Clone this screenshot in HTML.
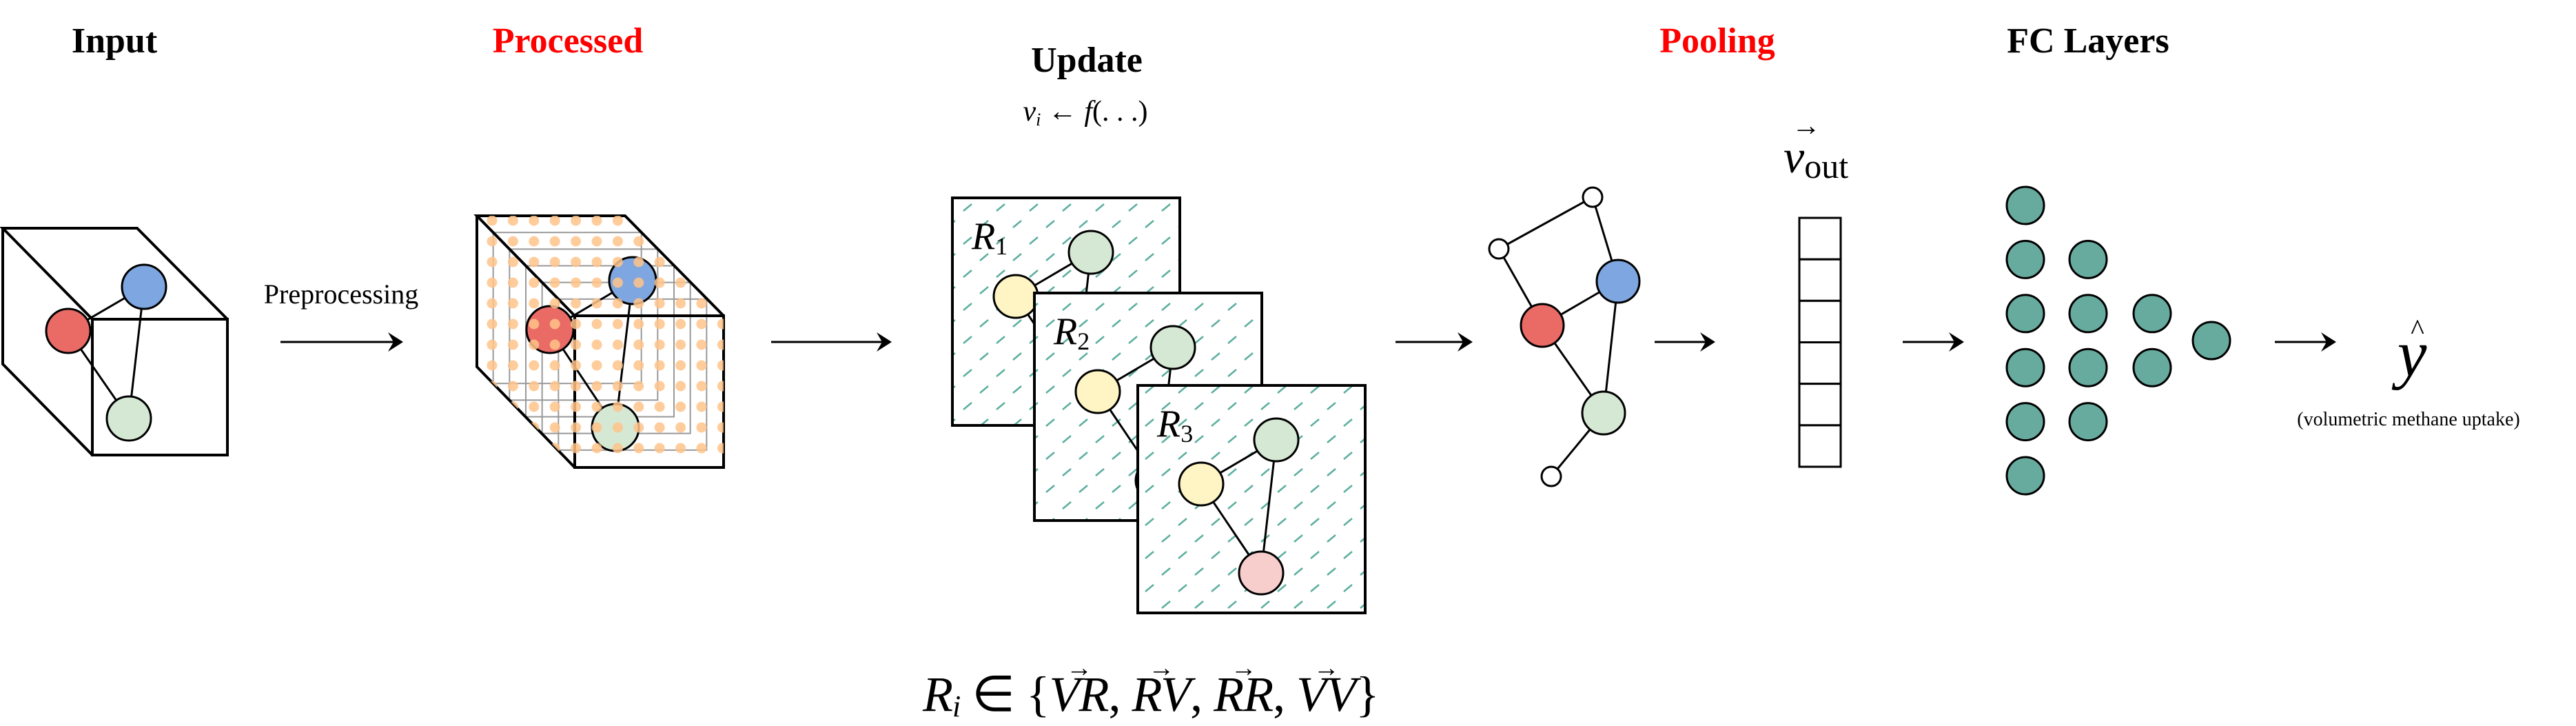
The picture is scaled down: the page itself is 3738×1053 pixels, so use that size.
<!DOCTYPE html>
<html><head><meta charset="utf-8">
<style>
html,body{margin:0;padding:0;background:#fff;}
body{position:relative;width:3738px;height:1053px;overflow:hidden;}
svg{display:block;}
.t{font-family:"Liberation Serif",serif;font-weight:bold;font-size:52px;text-anchor:middle;}
.m{font-family:"Liberation Serif",serif;font-style:italic;}
#rel{position:absolute;left:1339px;top:962px;width:641px;text-align:center;font-family:"Liberation Serif",serif;font-size:72px;line-height:90px;white-space:nowrap;letter-spacing:-1px;}
#rel i{font-style:italic;}
#rel .v{position:relative;display:inline-block;}
#rel .v::before{content:"→";position:absolute;left:50%;top:-38px;font-size:38px;font-style:normal;transform:translateX(-50%);}
#rel sub{font-size:44px;vertical-align:-8px;line-height:0;}
</style></head>
<body>
<svg id="fig" width="3738" height="1053" viewBox="0 0 3738 1053" xmlns="http://www.w3.org/2000/svg">
<defs>
<pattern id="hatch" width="48" height="48" patternUnits="userSpaceOnUse">
<line x1="6" y1="18" x2="18" y2="8" stroke="#5aae9e" stroke-width="2.5"/>
<line x1="30" y1="42" x2="42" y2="32" stroke="#5aae9e" stroke-width="2.5"/>
</pattern>
<clipPath id="cubeclip"><polygon points="692,313 907,313 1050,458 1050,678 834,678 692,532"/></clipPath>
</defs>

<text class="t" x="166" y="76">Input</text>
<text class="t" x="824" y="76" fill="#ff0000">Processed</text>
<text class="t" x="1577" y="104">Update</text>
<text class="m" x="1575" y="175" font-size="42" text-anchor="middle">v<tspan font-size="26" dy="7">i</tspan><tspan dy="-7" font-style="normal"> ← </tspan>f<tspan font-style="normal">(. . .)</tspan></text>
<text class="t" x="2492" y="76" fill="#ff0000">Pooling</text>
<text class="t" x="3030" y="76">FC Layers</text>

<g fill="none" stroke="#000" stroke-width="4">
<polyline points="134,463 4,331 199,331 330,463"/>
<polyline points="4,331 4,528 134,660"/>
<rect x="134" y="463" width="196" height="197"/>
</g>
<g stroke="#000" stroke-width="3">
<line x1="99" y1="480" x2="209" y2="416"/><line x1="99" y1="480" x2="187" y2="607"/><line x1="209" y1="416" x2="187" y2="607"/>
<circle cx="209" cy="416" r="32" fill="#7ea6e0"/>
<circle cx="99" cy="480" r="32" fill="#ea6b66"/>
<circle cx="187" cy="607" r="32" fill="#d5e8d4"/>
</g>
<text x="495" y="440" font-family="Liberation Serif,serif" font-size="40" text-anchor="middle">Preprocessing</text>

<g id="proc">
<g id="grayrects" fill="none" stroke="#999" stroke-width="2"></g>
<polyline points="834,458 692,313 907,313 1050,458" fill="none" stroke="#000" stroke-width="4"/>
<polyline points="692,313 692,532 834,678" fill="none" stroke="#000" stroke-width="4"/>
<rect x="834" y="458" width="216" height="220" fill="none" stroke="#000" stroke-width="4"/>
<g stroke="#000" stroke-width="3">
<line x1="798" y1="478" x2="918" y2="407"/><line x1="798" y1="478" x2="893" y2="620"/><line x1="918" y1="407" x2="893" y2="620"/>
<circle cx="918" cy="407" r="34" fill="#7ea6e0"/>
<circle cx="798" cy="478" r="34" fill="#ea6b66"/>
<circle cx="893" cy="620" r="34" fill="#d5e8d4"/>
</g>
<g id="dots" clip-path="url(#cubeclip)" fill="#ffc38a" fill-opacity="0.85"></g>
</g>

<g id="frames"></g>

<g stroke="#000" stroke-width="3">
<line x1="2311" y1="286" x2="2175" y2="361"/><line x1="2311" y1="286" x2="2348" y2="408"/>
<line x1="2175" y1="361" x2="2238" y2="472"/><line x1="2238" y1="472" x2="2348" y2="408"/>
<line x1="2238" y1="472" x2="2327" y2="599"/><line x1="2348" y1="408" x2="2327" y2="599"/>
<line x1="2327" y1="599" x2="2251" y2="691"/>
<circle cx="2311" cy="286" r="14" fill="#fff"/>
<circle cx="2175" cy="361" r="14" fill="#fff"/>
<circle cx="2251" cy="691" r="14" fill="#fff"/>
<circle cx="2348" cy="408" r="31" fill="#7ea6e0"/>
<circle cx="2238" cy="472" r="31" fill="#ea6b66"/>
<circle cx="2327" cy="599" r="31" fill="#d5e8d4"/>
</g>

<text class="m" x="2588" y="250" font-size="68">v<tspan font-style="normal" font-size="50" dy="8">out</tspan></text>
<text x="2600" y="196" font-family="Liberation Serif,serif" font-size="42">→</text>
<g id="vout" fill="#fff" stroke="#000" stroke-width="3"></g>

<g id="fc" fill="#67ab9f" stroke="#000" stroke-width="3"></g>

<text class="m" x="3500" y="545" font-size="96" text-anchor="middle">y</text>
<text x="3508" y="492" font-family="Liberation Serif,serif" font-size="42" text-anchor="middle">^</text>
<text x="3495" y="617" font-family="Liberation Serif,serif" font-size="28" text-anchor="middle">(volumetric methane uptake)</text>

<g id="arrows"></g>
</svg>
<div id="rel"><i>R</i><sub><i>i</i></sub> ∈ {<span class="v"><i>VR</i></span>, <span class="v"><i>RV</i></span>, <span class="v"><i>RR</i></span>, <span class="v"><i>VV</i></span>}</div>
<script>
const NS="http://www.w3.org/2000/svg";
const fcLayerSizes=[6,4,2,1];
const fcLayerX=[2939,3030,3123,3209];
const voutCells=6;
const arrowSpans=[[407,585],[1119,1294],[2025,2137],[2401,2489],[2761,2850],[3301,3390]];
const frameOrigins=[[1382,287],[1501,425],[1651,559]];
const frameLabels=["1","2","3"];
function mk(tag,attrs,parent){const e=document.createElementNS(NS,tag);for(const k in attrs)e.setAttribute(k,attrs[k]);parent.appendChild(e);return e;}
const gr=document.getElementById('grayrects');
for(let k=1;k<=5;k++){const dx=142*k/6,dy=145*k/6;
const r=mk('rect',{x:692+dx,y:313+dy,width:215,height:219},gr);

}
const dg=document.getElementById('dots');
for(let i=0;i<12;i++)for(let j=0;j<12;j++){
const c=mk('circle',{cx:714+i*30.4,cy:320+j*30,r:7.5},dg);

}
const fg=document.getElementById('frames');
frameOrigins.forEach((o,i)=>{const [x,y]=o;
const g=mk('g',{},fg);


mk('rect',{x:x,y:y,width:330,height:330,fill:'#fff',stroke:'none'},g);
mk('rect',{x:x,y:y,width:330,height:330,fill:'url(#hatch)',stroke:'#000','stroke-width':4},g);
const G=[x+201,y+79],Y=[x+92,y+143],P=[x+179,y+272];
const ls={stroke:'#000','stroke-width':3};
mk('line',Object.assign({x1:Y[0],y1:Y[1],x2:G[0],y2:G[1]},ls),g);
mk('line',Object.assign({x1:Y[0],y1:Y[1],x2:P[0],y2:P[1]},ls),g);
mk('line',Object.assign({x1:G[0],y1:G[1],x2:P[0],y2:P[1]},ls),g);
mk('ellipse',{cx:G[0],cy:G[1],rx:32,ry:31,fill:'#d5e8d4',stroke:'#000','stroke-width':3},g);
mk('ellipse',{cx:Y[0],cy:Y[1],rx:32,ry:31,fill:'#fff4c3',stroke:'#000','stroke-width':3},g);
mk('ellipse',{cx:P[0],cy:P[1],rx:32,ry:31,fill:'#f8cecc',stroke:'#000','stroke-width':3},g);
const t=mk('text',{x:x+28,y:y+74,'font-family':'Liberation Serif,serif','font-style':'italic','font-size':56},g);


t.textContent='R';
const s=mk('tspan',{'font-size':36,dy:8,'font-style':'normal'},t);s.textContent=frameLabels[i];
});
const vg=document.getElementById('vout');
const ch=(677-316)/voutCells;
for(let i=0;i<voutCells;i++){const r=mk('rect',{x:2611,y:316+i*ch,width:60,height:ch},vg);

}
const fc=document.getElementById('fc');
const rowStep=78.4, centerY=494;
fcLayerSizes.forEach((n,li)=>{for(let j=0;j<n;j++){
const cy=centerY+(j-(n-1)/2)*rowStep;
const c=mk('circle',{cx:fcLayerX[li],cy:cy,r:27},fc);

}});
const ag=document.getElementById('arrows');
arrowSpans.forEach(s=>{const g=mk('g',{},ag);


const y=496;
mk('line',{x1:s[0],y1:y,x2:s[1]-8,y2:y,stroke:'#000','stroke-width':3},g);
mk('polygon',{points:`${s[1]},${y} ${s[1]-22},${y-14} ${s[1]-14},${y} ${s[1]-22},${y+14}`,fill:'#000'},g);
});
</script>
</body></html>
